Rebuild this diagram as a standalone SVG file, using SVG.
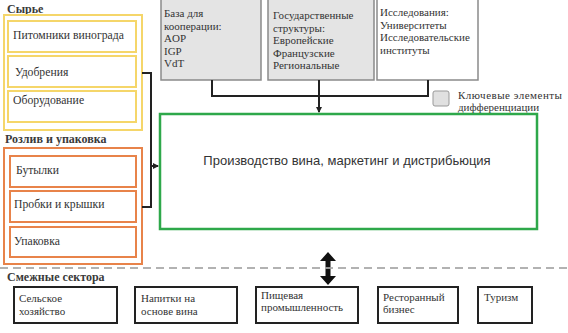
<svg xmlns="http://www.w3.org/2000/svg" width="568" height="333" viewBox="0 0 568 333">
<defs>
<style>
.t{font-family:"Liberation Serif","Times New Roman",serif;font-size:11.7px;fill:#333}
.s{font-family:"Liberation Serif","Times New Roman",serif;font-size:11px;fill:#333}
.h{font-family:"Liberation Serif","Times New Roman",serif;font-size:12px;font-weight:bold;fill:#3a3a3a}
.m{font-family:"Liberation Sans",Arial,sans-serif;font-size:13px;fill:#333}
.yo{fill:none;stroke:#f5d66a;stroke-width:2}
.oo{fill:none;stroke:#e8834a;stroke-width:2}
.gr{fill:#e4e4e4;stroke:#8a8a8a;stroke-width:1.5}
.wb{fill:#fff;stroke:#8a8a8a;stroke-width:1.5}
.bb{fill:#fff;stroke:#222;stroke-width:2}
.ln{fill:none;stroke:#222;stroke-width:2}
</style>
<marker id="ah" markerWidth="6" markerHeight="6" refX="5" refY="3" orient="auto" markerUnits="userSpaceOnUse">
<path d="M0,0 L6,3 L0,6 Z" fill="#222"/>
</marker>
</defs>
<rect width="568" height="333" fill="#fff"/>

<g id="raw">
<text class="h" x="7" y="13">Сырье</text>
<rect class="yo" x="4" y="15" width="138" height="115"/>
<g id="nursery"><rect class="yo" x="8" y="21" width="128" height="31"/><text class="t" x="13" y="39">Питомники винограда</text></g>
<g id="fertilizer"><rect class="yo" x="8" y="56" width="128" height="31"/><text class="t" x="15" y="76">Удобрения</text></g>
<g id="equipment"><rect class="yo" x="8" y="91" width="128" height="31"/><text class="t" x="13" y="104">Оборудование</text></g>
</g>

<g id="bottling">
<text class="h" x="5" y="143">Розлив и упаковка</text>
<rect class="oo" x="4" y="148" width="138" height="116"/>
<g id="bottles"><rect class="oo" x="10" y="156" width="126" height="31"/><text class="t" x="16" y="174">Бутылки</text></g>
<g id="corks"><rect class="oo" x="10" y="191" width="126" height="31"/><text class="t" x="14" y="208">Пробки и крышки</text></g>
<g id="packaging"><rect class="oo" x="10" y="227" width="126" height="30"/><text class="t" x="14" y="245">Упаковка</text></g>
</g>

<g id="coop"><rect class="gr" x="161" y="-4" width="100" height="84"/>
<text class="s" x="164" y="17">База для</text><text class="s" x="164" y="29.6">кооперации:</text><text class="s" x="164" y="42.2">AOP</text><text class="s" x="164" y="54.8">IGP</text><text class="s" x="164" y="67.4">VdT</text></g>

<g id="gov"><rect class="gr" x="268" y="-4" width="106" height="84"/>
<text class="s" x="273" y="19">Государственные</text><text class="s" x="273" y="31.6">структуры:</text><text class="s" x="273" y="44.2">Европейские</text><text class="s" x="273" y="56.8">Французские</text><text class="s" x="273" y="69.4">Региональные</text></g>

<g id="research"><rect class="wb" x="377" y="-4" width="101" height="84"/>
<text class="s" x="380" y="16">Исследования:</text><text class="s" x="380" y="28.6">Университеты</text><text class="s" x="380" y="41.2">Исследовательские</text><text class="s" x="380" y="53.8">институты</text></g>

<g id="legend"><rect x="433" y="91" width="16" height="15" rx="2" fill="#e0e0e0" stroke="#999" stroke-width="1"/>
<text class="s" x="458" y="98.5" textLength="104" lengthAdjust="spacing">Ключевые элементы</text><text class="s" x="458" y="111.1">дифференциации</text></g>

<g id="production"><rect x="160" y="114" width="377" height="115" fill="#fff" stroke="#2ea84a" stroke-width="2.5"/>
<text class="m" x="347" y="165" text-anchor="middle">Производство вина, маркетинг и дистрибьюция</text></g>

<g id="connectors">
<path class="ln" d="M142,73 H151 V207 H142"/>
<path class="ln" d="M151,166 H158" marker-end="url(#ah)"/>
<path class="ln" d="M212,80 V96 H428 V80"/>
<path class="ln" d="M319,80 V112" marker-end="url(#ah)"/>
<path d="M328,252 L336,261 L330.5,261 L330.5,276 L336,276 L328,285 L320,276 L325.5,276 L325.5,261 L320,261 Z" fill="#111"/>
<line x1="325" y1="268" x2="331" y2="268" stroke="#fff" stroke-width="1"/>
</g>

<line x1="0" y1="268" x2="568" y2="268" stroke="#999" stroke-width="1.5" stroke-dasharray="8,5"/>
<text class="h" x="7" y="281">Смежные сектора</text>

<g id="agri"><rect class="bb" x="14" y="287" width="103" height="36"/><text class="s" x="19" y="302">Сельское</text><text class="s" x="19" y="314.6">хозяйство</text></g>
<g id="drinks"><rect class="bb" x="135" y="287" width="102" height="36"/><text class="s" x="141" y="302">Напитки на</text><text class="s" x="141" y="314.6">основе вина</text></g>
<g id="food"><rect class="bb" x="256" y="287" width="102" height="36"/><text class="s" x="261" y="298.5">Пищевая</text><text class="s" x="261" y="311.1">промышленность</text></g>
<g id="restaurant"><rect class="bb" x="378" y="287" width="80" height="36"/><text class="s" x="383" y="300.5">Ресторанный</text><text class="s" x="383" y="313.1">бизнес</text></g>
<g id="tourism"><rect class="bb" x="478" y="287" width="54" height="36"/><text class="s" x="484" y="301">Туризм</text></g>
</svg>
